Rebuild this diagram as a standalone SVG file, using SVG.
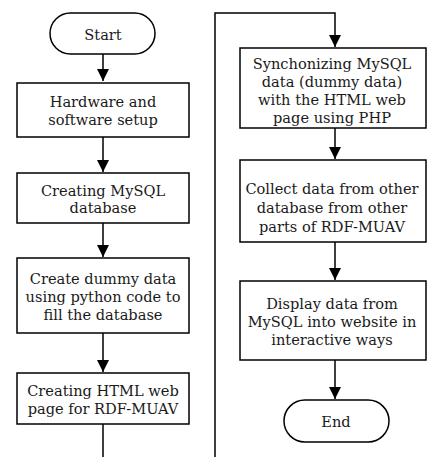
<svg xmlns="http://www.w3.org/2000/svg" width="427" height="457" viewBox="0 0 427 457">
<style>
.b{fill:#fff;stroke:#000;stroke-width:1.5}
.c{fill:none;stroke:#000;stroke-width:1.5}
text{font-family:"DejaVu Serif","Liberation Serif",serif;font-size:14.6px;fill:#1a1a1a;text-anchor:middle;dominant-baseline:central}
</style>
<defs>
<marker id="ah" markerUnits="userSpaceOnUse" markerWidth="12" markerHeight="14" refX="12" refY="6" orient="auto">
<path d="M0,0 L12,6 L0,12 Z" fill="#000"/>
</marker>
</defs>
<rect width="427" height="457" fill="#fff"/>
<g id="connectors">
<line class="c" x1="103" y1="54" x2="103" y2="81" marker-end="url(#ah)"/>
<line class="c" x1="103" y1="137" x2="103" y2="172" marker-end="url(#ah)"/>
<line class="c" x1="103" y1="223" x2="103" y2="257" marker-end="url(#ah)"/>
<line class="c" x1="103" y1="333" x2="103" y2="372" marker-end="url(#ah)"/>
<line class="c" x1="103" y1="424" x2="103" y2="458"/>
<polyline class="c" points="215,458 215,13 335,13 335,47" marker-end="url(#ah)"/>
<line class="c" x1="335" y1="128" x2="335" y2="159" marker-end="url(#ah)"/>
<line class="c" x1="335" y1="242" x2="335" y2="280" marker-end="url(#ah)"/>
<line class="c" x1="335" y1="360" x2="335" y2="399" marker-end="url(#ah)"/>
</g>
<g id="start">
<rect class="b" x="50" y="13" width="105" height="41" rx="20.5"/>
<text x="103" y="34">Start</text>
</g>
<g id="n1">
<rect class="b" x="17" y="83" width="172" height="54"/>
<text x="103" y="101">Hardware and</text>
<text x="103" y="119">software setup</text>
</g>
<g id="n2">
<rect class="b" x="17" y="173" width="172" height="50"/>
<text x="103" y="190">Creating MySQL</text>
<text x="103" y="207">database</text>
</g>
<g id="n3">
<rect class="b" x="17" y="258" width="172" height="75"/>
<text x="103" y="278">Create dummy data</text>
<text x="103" y="296">using python code to</text>
<text x="103" y="314">fill the database</text>
</g>
<g id="n4">
<rect class="b" x="17" y="373" width="172" height="51"/>
<text x="103" y="390">Creating HTML web</text>
<text x="103" y="408">page for RDF-MUAV</text>
</g>
<g id="n5">
<rect class="b" x="240" y="48" width="186" height="80"/>
<text x="332" y="63">Synchonizing MySQL</text>
<text x="332" y="81">data (dummy data)</text>
<text x="332" y="99">with the HTML web</text>
<text x="332" y="117">page using PHP</text>
</g>
<g id="n6">
<rect class="b" x="240" y="160" width="186" height="82"/>
<text x="332" y="188">Collect data from other</text>
<text x="332" y="207">database from other</text>
<text x="332" y="226">parts of RDF-MUAV</text>
</g>
<g id="n7">
<rect class="b" x="240" y="281" width="186" height="79"/>
<text x="332" y="303">Display data from</text>
<text x="332" y="321">MySQL into website in</text>
<text x="332" y="339">interactive ways</text>
</g>
<g id="end">
<rect class="b" x="284" y="400" width="105" height="42" rx="21"/>
<text x="336" y="421">End</text>
</g>
</svg>
